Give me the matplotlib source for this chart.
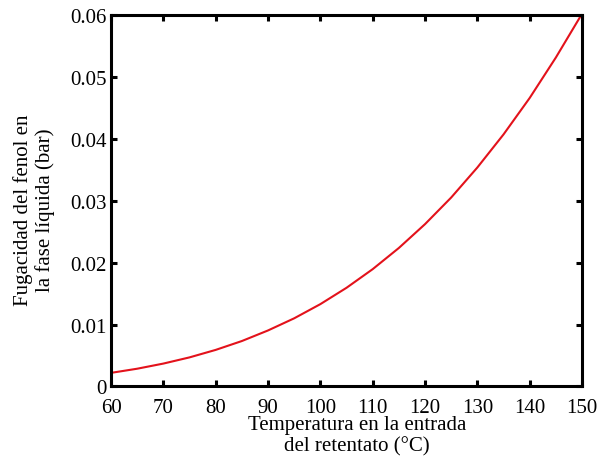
import matplotlib
matplotlib.use("Agg")
import matplotlib.pyplot as plt

temperature = [60, 65, 70, 75, 80, 85, 90, 95, 100, 105, 110, 115, 120, 125, 130, 135, 140, 145, 150]
fugacity = [0.00220, 0.00287, 0.00370, 0.00470, 0.00591, 0.00734, 0.00905, 0.01101, 0.01330,
            0.01594, 0.01895, 0.02237, 0.02622, 0.03052, 0.03537, 0.04071, 0.04660, 0.05313, 0.06020]
xticks = [60, 70, 80, 90, 100, 110, 120, 130, 140, 150]
yticks = [0, 0.01, 0.02, 0.03, 0.04, 0.05, 0.06]
ytick_labels = ["0", "0.01", "0.02", "0.03", "0.04", "0.05", "0.06"]

plt.rcParams['font.family'] = ['Liberation Serif', 'DejaVu Serif']
fig = plt.figure(figsize=(6.02, 4.64), dpi=100)
ax = fig.add_axes([0.1844, 0.1649, 0.7824, 0.8006])
ax.plot(temperature, fugacity, color='#e3121b', lw=1.5)
ax.set_xlim(60, 150)
ax.set_ylim(0, 0.06)
ax.set_xticks(xticks)
ax.set_yticks(yticks)
ax.set_yticklabels(ytick_labels)
for s in ax.spines.values():
    s.set_linewidth(2.2)
ax.tick_params(direction='in', length=4, width=2.2, top=True, right=True, labelsize=15)
ax.tick_params(axis='x', pad=8)
ax.tick_params(axis='y', pad=3)
ax.set_xlabel("Temperatura en la entrada\ndel retentato (°C)", fontsize=15, linespacing=1.1)
ax.xaxis.set_label_coords(0.522, -0.078)
ax.xaxis.label.set_va('top')
ax.set_ylabel("Fugacidad del fenol en\nla fase líquida (bar)", fontsize=15, linespacing=1.1)
ax.yaxis.set_label_coords(-0.163, 0.476)
ax.yaxis.label.set_va('center')
fig.savefig("out.png", dpi=100)
